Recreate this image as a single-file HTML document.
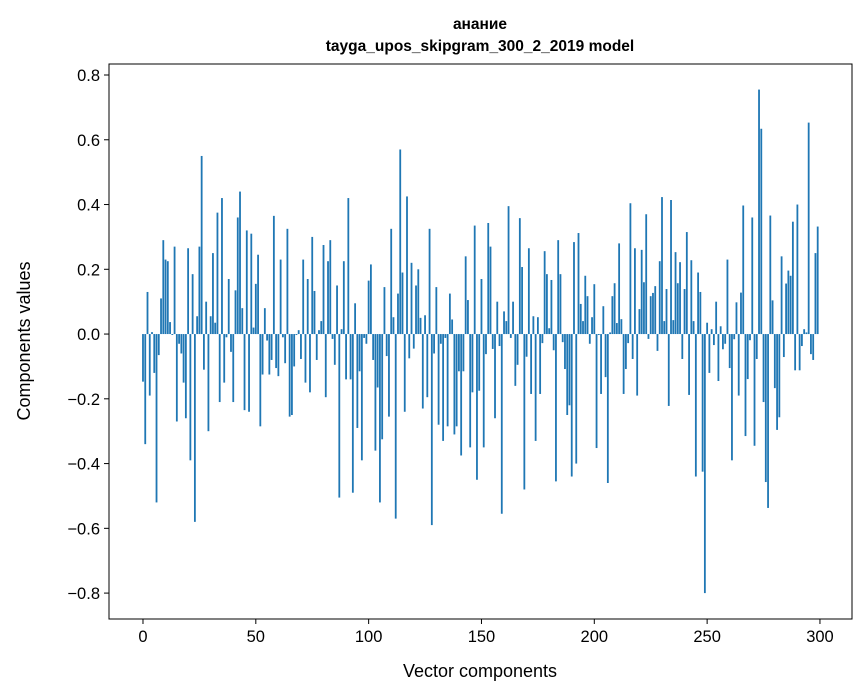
<!DOCTYPE html>
<html><head><meta charset="utf-8"><style>
html,body{margin:0;padding:0;background:#fff;}
svg{display:block;font-family:"Liberation Sans","DejaVu Sans",sans-serif;}
</style></head><body>
<svg id="chart" width="867" height="696" viewBox="0 0 867 696" xmlns="http://www.w3.org/2000/svg">
<rect width="867" height="696" fill="#fff"/>
<text x="480" y="29" text-anchor="middle" font-size="15.5" font-weight="bold">анание</text>
<text x="480" y="51" text-anchor="middle" font-size="15.5" font-weight="bold">tayga_upos_skipgram_300_2_2019 model</text>
<g id="bars"></g>
<g id="xticks"></g>
<g id="yticks"></g>
<rect x="109" y="64" width="743" height="555" fill="none" stroke="#000" stroke-width="1"/>
<text x="480" y="677" text-anchor="middle" font-size="18">Vector components</text>
<text transform="translate(30,341) rotate(-90)" text-anchor="middle" font-size="18">Components values</text>
</svg>
<script>
const values = [-0.147,-0.34,0.13,-0.19,0.006,-0.12,-0.52,-0.065,0.11,0.29,0.23,0.225,0.037,-0.003,0.27,-0.27,-0.03,-0.06,-0.15,-0.26,0.265,-0.39,0.185,-0.58,0.055,0.27,0.55,-0.11,0.1,-0.3,0.055,0.25,0.035,0.375,-0.21,0.42,-0.15,-0.01,0.17,-0.055,-0.21,0.135,0.36,0.44,0.08,-0.235,0.32,-0.24,0.31,0.02,0.155,
0.245,-0.285,-0.125,0.08,-0.02,-0.125,-0.08,0.365,-0.105,-0.13,0.23,-0.01,-0.09,0.325,-0.255,-0.25,-0.1,-0.003,0.012,-0.077,0.23,-0.15,0.17,-0.18,0.3,0.133,-0.08,0.012,0.04,0.275,-0.195,0.225,0.29,-0.015,-0.095,0.15,-0.505,0.015,0.225,-0.14,0.42,-0.14,-0.49,0.095,-0.29,-0.115,-0.39,-0.012,-0.03,0.165,
0.215,-0.08,-0.36,-0.165,-0.52,-0.325,0.145,-0.068,-0.255,0.325,0.052,-0.57,0.125,0.57,0.19,-0.24,0.425,-0.075,0.22,-0.045,0.15,0.2,0.05,-0.23,0.058,-0.195,0.325,-0.59,-0.06,0.145,-0.28,-0.03,-0.33,-0.012,-0.285,0.125,0.045,-0.31,-0.285,-0.115,-0.375,-0.115,0.24,0.105,-0.35,-0.18,0.335,-0.45,-0.175,0.17,
-0.35,-0.062,0.343,0.27,-0.046,-0.26,0.1,-0.037,-0.555,0.07,0.04,0.395,-0.012,0.1,-0.16,-0.095,0.358,0.207,-0.48,-0.07,0.265,-0.185,0.055,-0.33,0.052,-0.185,-0.028,0.256,0.185,0.018,0.167,-0.05,-0.455,0.29,0.185,-0.025,-0.108,-0.25,-0.22,-0.44,0.284,-0.4,0.312,0.093,0.04,0.18,0.117,-0.03,0.052,
0.154,-0.352,-0.003,-0.185,0.086,-0.133,-0.46,0.005,0.117,0.157,0.034,0.28,0.046,-0.185,-0.108,-0.028,0.404,-0.077,0.265,-0.19,0.077,0.26,0.16,0.37,-0.015,0.117,0.127,0.148,-0.052,0.225,0.423,0.04,0.139,-0.222,0.414,0.043,0.253,0.157,0.222,-0.077,0.139,0.315,-0.188,0.228,0.04,-0.44,0.19,0.13,-0.425,-0.8,
0.035,-0.12,0.015,-0.034,0.1,-0.145,0.024,-0.047,-0.03,0.23,-0.105,-0.39,-0.016,0.098,-0.19,0.128,0.397,-0.315,-0.139,-0.019,0.36,-0.345,-0.077,0.755,0.634,-0.21,-0.457,-0.537,0.366,0.104,-0.167,-0.296,-0.257,0.24,-0.071,0.156,0.196,0.18,0.347,-0.112,0.4,-0.112,-0.037,0.015,0.005,0.653,-0.062,-0.08,0.25,0.332];
const xTickValues = [0,50,100,150,200,250,300];
const xTickLabels = ["0","50","100","150","200","250","300"];
const yTickValues = [-0.8,-0.6,-0.4,-0.2,0,0.2,0.4,0.6,0.8];
const yTickLabels = ["\u22120.8","\u22120.6","\u22120.4","\u22120.2","0.0","0.2","0.4","0.6","0.8"];

const NS = "http://www.w3.org/2000/svg";
const L = 109, R = 852, T = 64, B = 619;
const xMin = -15.06, xMax = 314.2, yMin = -0.880, yMax = 0.834;
function xs(v){ return L + (v - xMin) / (xMax - xMin) * (R - L); }
function ys(v){ return B - (v - yMin) / (yMax - yMin) * (B - T); }
function mk(tag, attrs){ const e = document.createElementNS(NS, tag); for (const k in attrs) e.setAttribute(k, attrs[k]); return e; }

const barsG = document.getElementById('bars');
const bw = (xs(0.8) - xs(0));
values.forEach((v, i) => {
  const y0 = ys(0), y1 = ys(v);
  const r = mk('rect', {x: xs(i) - bw/2, y: Math.min(y0, y1), width: bw, height: Math.max(Math.abs(y1 - y0), 0.3), fill: '#1f77b4'});
  
  
  barsG.appendChild(r);
});

const xg = document.getElementById('xticks');
xTickValues.forEach((v, i) => {
  const x = xs(v);
  const t = mk('line', {x1: x, x2: x, y1: B, y2: B + 5, stroke: '#000', 'stroke-width': 1});
  
  
  xg.appendChild(t);
  const lb = mk('text', {x: x, y: B + 23, 'text-anchor': 'middle', 'font-size': 16.5});
  
  
  lb.textContent = xTickLabels[i];
  xg.appendChild(lb);
});

const yg = document.getElementById('yticks');
yTickValues.forEach((v, i) => {
  const y = ys(v);
  const t = mk('line', {x1: L - 5, x2: L, y1: y, y2: y, stroke: '#000', 'stroke-width': 1});
  
  
  yg.appendChild(t);
  const lb = mk('text', {x: L - 9, y: y + 6, 'text-anchor': 'end', 'font-size': 16.5});
  
  
  lb.textContent = yTickLabels[i];
  yg.appendChild(lb);
});
</script>
</body></html>
